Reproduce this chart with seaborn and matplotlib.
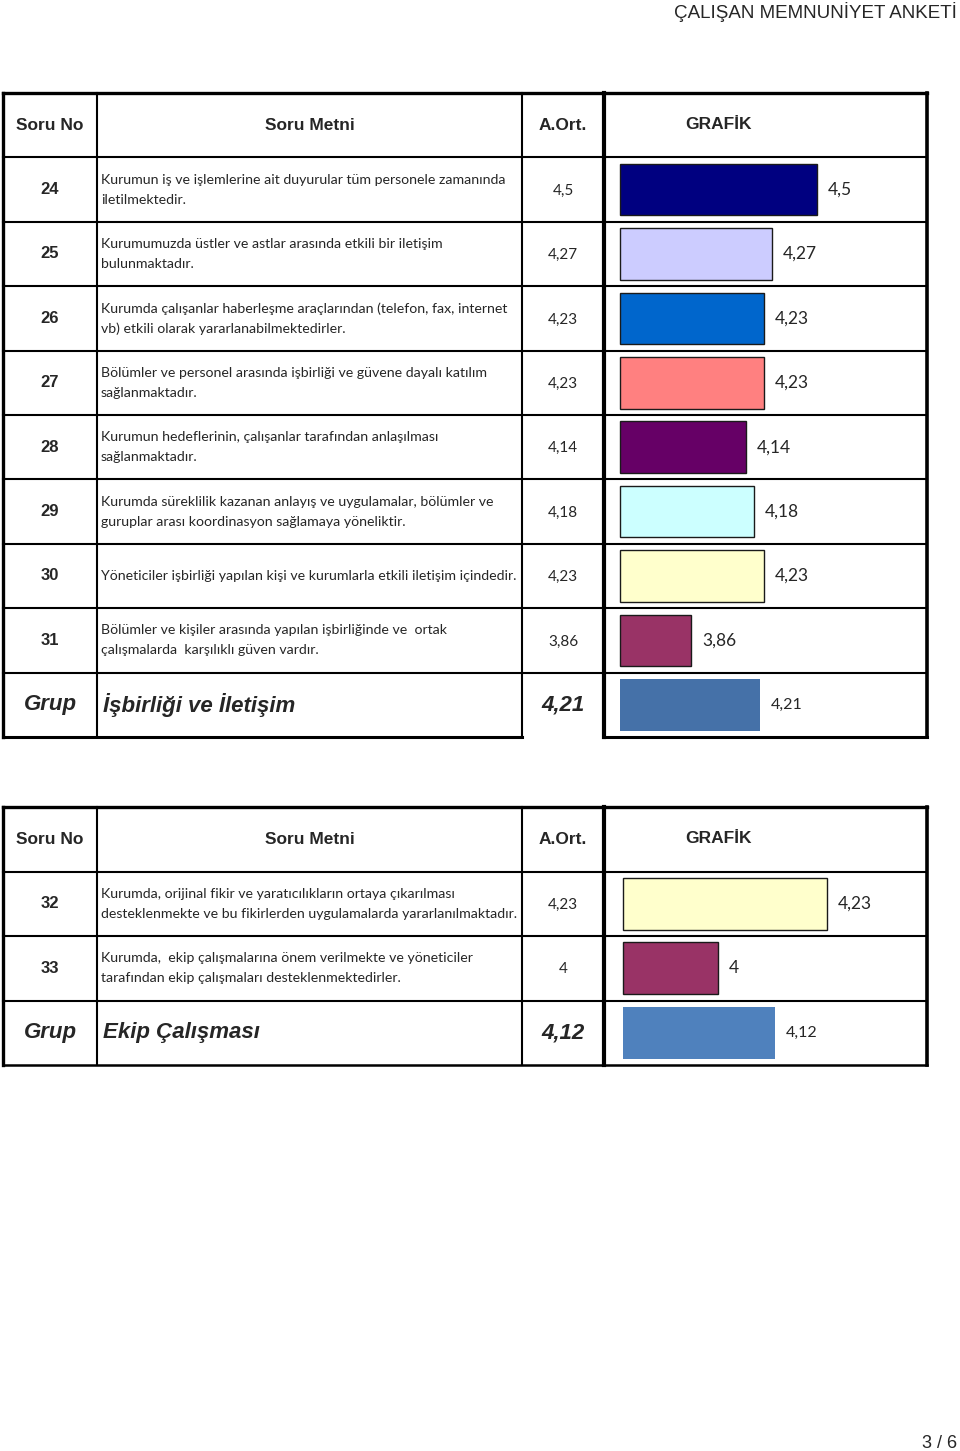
import matplotlib
matplotlib.use("Agg")
import matplotlib.pyplot as plt
import seaborn as sns
import pandas as pd

# --- veriler ---
soru_no_1 = ["24", "25", "26", "27", "28", "29", "30", "31"]
soru_metni_1 = [
    ["Kurumun iş ve işlemlerine ait duyurular tüm personele zamanında", "iletilmektedir."],
    ["Kurumumuzda üstler ve astlar arasında etkili bir iletişim", "bulunmaktadır."],
    ["Kurumda çalışanlar haberleşme araçlarından (telefon, fax, internet", "vb) etkili olarak yararlanabilmektedirler."],
    ["Bölümler ve personel arasında işbirliği ve güvene dayalı katılım", "sağlanmaktadır."],
    ["Kurumun hedeflerinin, çalışanlar tarafından anlaşılması", "sağlanmaktadır."],
    ["Kurumda süreklilik kazanan anlayış ve uygulamalar, bölümler ve", "guruplar arası koordinasyon sağlamaya yöneliktir."],
    ["Yöneticiler işbirliği yapılan kişi ve kurumlarla etkili iletişim içindedir."],
    ["Bölümler ve kişiler arasında yapılan işbirliğinde ve  ortak", "çalışmalarda  karşılıklı güven vardır."],
]
ortalama_1 = [4.5, 4.27, 4.23, 4.23, 4.14, 4.18, 4.23, 3.86]
etiket_1 = ["4,5", "4,27", "4,23", "4,23", "4,14", "4,18", "4,23", "3,86"]
renk_1 = ["#000080", "#CCCCFF", "#0066CC", "#FF8080", "#660066", "#CCFFFF", "#FFFFCC", "#993366"]
grup_adi_1 = "İşbirliği ve İletişim"
grup_ort_1 = 4.21
grup_etiket_1 = "4,21"
grup_renk_1 = "#4571A8"

soru_no_2 = ["32", "33"]
soru_metni_2 = [
    ["Kurumda, orijinal fikir ve yaratıcılıkların ortaya çıkarılması", "desteklenmekte ve bu fikirlerden uygulamalarda yararlanılmaktadır."],
    ["Kurumda,  ekip çalışmalarına önem verilmekte ve yöneticiler", "tarafından ekip çalışmaları desteklenmektedirler."],
]
ortalama_2 = [4.23, 4.0]
etiket_2 = ["4,23", "4"]
renk_2 = ["#FFFFCC", "#993366"]
grup_adi_2 = "Ekip Çalışması"
grup_ort_2 = 4.12
grup_etiket_2 = "4,12"
grup_renk_2 = "#4F81BD"

W, H = 960, 1451
sns.set_theme(style="white")
plt.rcParams["font.family"] = ["Liberation Sans", "DejaVu Sans"]
BODY = ["Lato", "DejaVu Sans"]

fig = plt.figure(figsize=(W / 100, H / 100), dpi=100)
bg = fig.add_axes([0, 0, 1, 1])
bg.set_xlim(0, W)
bg.set_ylim(H, 0)
bg.axis("off")


def hline(x0, x1, y, lw):
    bg.plot([x0, x1], [y, y], color="black", lw=lw, solid_capstyle="projecting", zorder=3)


def vline(x, y0, y1, lw):
    bg.plot([x, x], [y0, y1], color="black", lw=lw, solid_capstyle="projecting", zorder=3)


cols = [3, 97, 522, 604, 927]


def tablo(top, row_h, nos, metinler, ort, etiket, renk, g_adi, g_ort, g_etiket, g_renk,
          base, scale, bar_left, full_bottom):
    n = len(nos) + 1
    hdr_bot = top + row_h
    bottom = hdr_bot + n * row_h
    # cizgiler
    hline(cols[0], cols[4], top, 2.4)
    for i in range(n):
        y = hdr_bot + i * row_h
        hline(cols[0], cols[4], y, 1.5)
    if full_bottom:
        hline(cols[0], cols[4], bottom, 1.8)
    else:
        hline(cols[0], cols[2], bottom, 2.2)
        hline(cols[3], cols[4], bottom, 2.2)
    vline(cols[0], top, bottom, 2.4)
    vline(cols[1], top, bottom, 1.5)
    vline(cols[2], top, bottom, 1.5)
    vline(cols[3], top, bottom, 3.0)
    vline(cols[4], top, bottom, 2.6)

    # basliklar
    yc = top + row_h / 2
    bg.text(50, yc, "Soru No", ha="center", va="center", fontsize=12.5, fontweight="bold")
    bg.text(310, yc, "Soru Metni", ha="center", va="center", fontsize=12.5, fontweight="bold")
    bg.text(563, yc, "A.Ort.", ha="center", va="center", fontsize=12.5, fontweight="bold")
    bg.text(718, yc - 1, "GRAFİK", ha="center", va="center", fontsize=12.5, fontweight="bold")

    for i, no in enumerate(nos):
        yc = hdr_bot + (i + 0.5) * row_h
        bg.text(50, yc, no, ha="center", va="center", fontsize=12, fontweight="bold")
        lines = metinler[i]
        if len(lines) == 1:
            bg.text(101, yc, lines[0], ha="left", va="center", fontsize=10.2, family=BODY)
        else:
            bg.text(101, yc - 10, lines[0], ha="left", va="center", fontsize=10.2, family=BODY)
            bg.text(101, yc + 10, lines[1], ha="left", va="center", fontsize=10.2, family=BODY)
        bg.text(563, yc + 1, etiket[i], ha="center", va="center", fontsize=11, family=BODY)

    yc = hdr_bot + (n - 0.5) * row_h
    bg.text(50, yc, "Grup", ha="center", va="center", fontsize=16, fontweight="bold", style="italic")
    bg.text(103, yc, g_adi, ha="left", va="center", fontsize=16, fontweight="bold", style="italic")
    bg.text(563, yc, g_etiket, ha="center", va="center", fontsize=16, fontweight="bold", style="italic")

    # grafik
    df = pd.DataFrame({
        "soru": nos + ["Grup"],
        "ort": ort + [g_ort],
    })
    right = cols[4] - 2
    ax = fig.add_axes([bar_left / W, 1 - bottom / H, (right - bar_left) / W, (bottom - hdr_bot) / H])
    sns.barplot(data=df, x="ort", y="soru", hue="soru", palette=renk + [g_renk],
                orient="h", width=0.8, legend=False, ax=ax, saturation=1)
    ax.set_xlim(base, base + (right - bar_left) / scale)
    ax.set_ylim(n - 0.5, -0.5)
    ax.axis("off")
    ax.patch.set_alpha(0)
    bars = [b for c in ax.containers for b in c]
    for j, b in enumerate(bars):
        w = b.get_x() + b.get_width()
        b.set_x(base)
        b.set_width(w - base)
        b.set_clip_on(False)
        if j < n - 1:
            b.set_edgecolor("#1a1a1a")
            b.set_linewidth(1.0)
        else:
            b.set_linewidth(0)
    labels = etiket + [g_etiket]
    vals = ort + [g_ort]
    for j in range(n):
        fs = 12.5 if j < n - 1 else 11.5
        ax.annotate(labels[j], (vals[j], j), xytext=(11, 0), textcoords="offset pixels",
                    ha="left", va="center", fontsize=fs, family=BODY)


tablo(93, 64.4, soru_no_1, soru_metni_1, ortalama_1, etiket_1, renk_1,
      grup_adi_1, grup_ort_1, grup_etiket_1, grup_renk_1,
      base=3.5, scale=196.9, bar_left=620, full_bottom=False)
tablo(807, 64.5, soru_no_2, soru_metni_2, ortalama_2, etiket_2, renk_2,
      grup_adi_2, grup_ort_2, grup_etiket_2, grup_renk_2,
      base=3.8, scale=475.0, bar_left=623, full_bottom=True)

bg.text(957, 12, "ÇALIŞAN MEMNUNİYET ANKETİ", ha="right", va="center", fontsize=13.5)
bg.text(957, 1443, "3 / 6", ha="right", va="center", fontsize=13)

fig.savefig("out.png", dpi=100, facecolor="white")
